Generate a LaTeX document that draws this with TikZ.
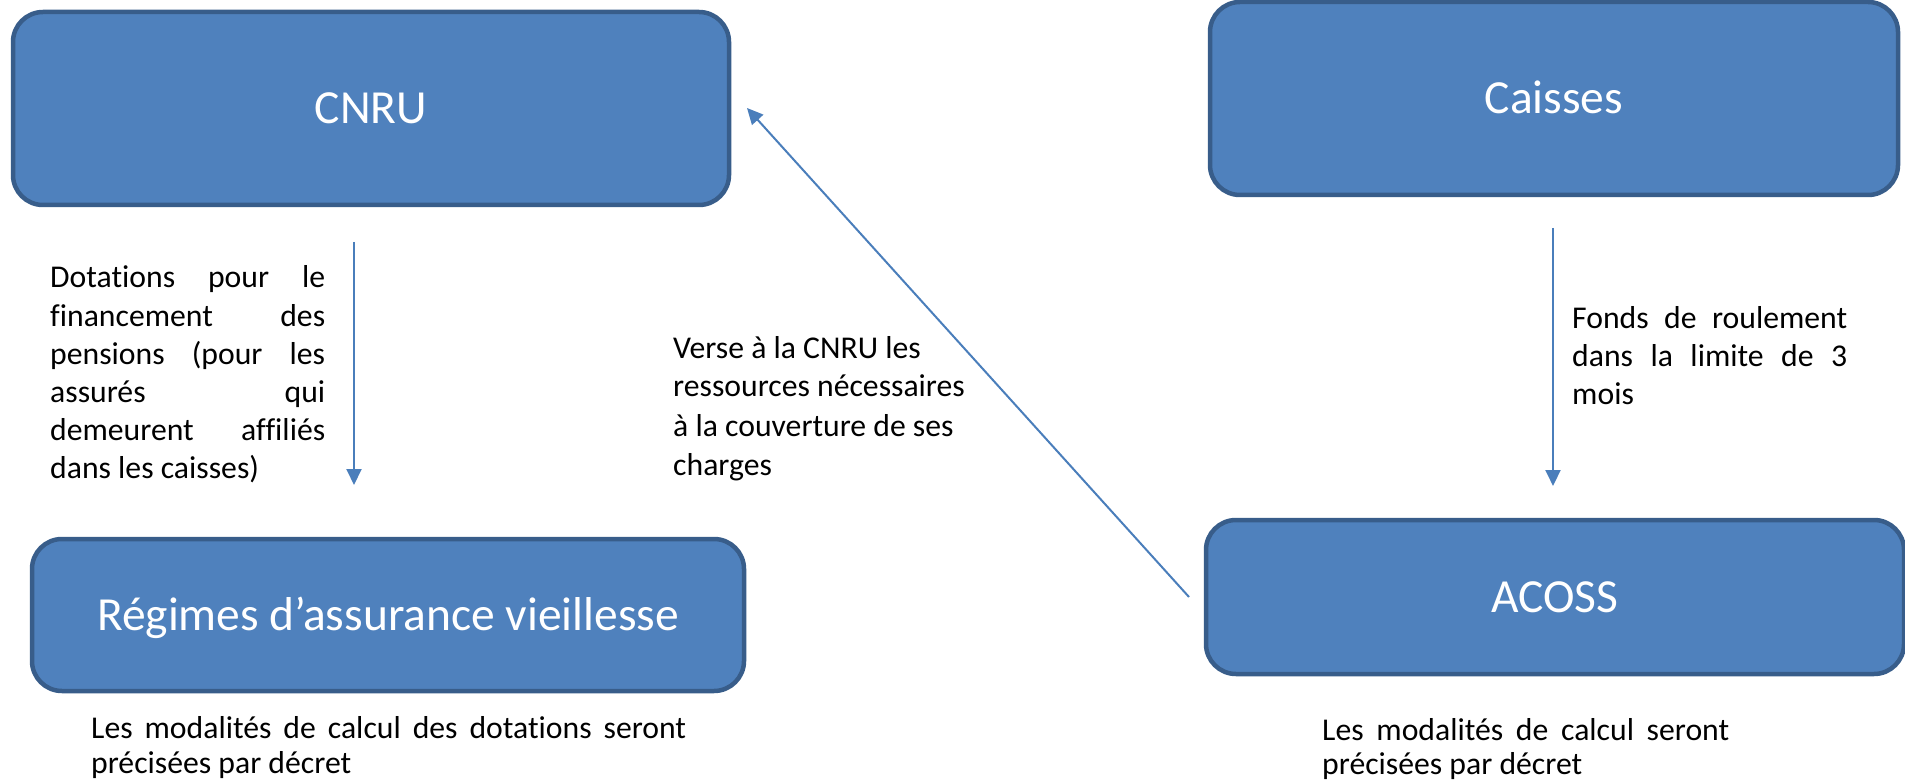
\documentclass[tikz,border=0pt]{standalone}
\usepackage{fontspec}
\setmainfont{Carlito}[Ligatures=NoCommon]
\usetikzlibrary{arrows.meta}
\definecolor{boxfill}{HTML}{4F81BD}
\definecolor{boxline}{HTML}{385D8A}
\definecolor{arrowc}{HTML}{4A7EBB}
\newcommand\jl[2]{\hbox to #1{\spaceskip=0pt plus 1fil\xspaceskip=0pt plus 1fil\relax #2}}
\newcommand\fl[1]{\hbox{#1}}
\begin{document}
\begin{tikzpicture}[x=1pt,y=-1pt,
  box/.style={draw=boxline, line width=4.5pt, fill=boxfill, rounded corners=30pt,
    text=white, font=\fontsize{47.5}{57}\selectfont, text height=30.6pt, text depth=0pt, inner sep=0pt},
  body/.style={inner sep=0pt, anchor=base west, text=black},
  conn/.style={draw=arrowc, line width=2pt, -{Triangle[length=16pt,width=15pt]}}]
\useasboundingbox (0,0) rectangle (1905,783);

% boxes
\node[box, minimum width=716pt, minimum height=193pt] (cnru) at (371,108.5) {CNRU};
\node[box, minimum width=688pt, minimum height=193pt] (caisses) at (1554,98.5) {Caisses};
\node[box, minimum width=712pt, minimum height=152pt] (regimes) at (388,615) {Régimes d’assurance vieillesse};
\node[box, minimum width=698pt, minimum height=154pt] (acoss) at (1555,597) {ACOSS};

% connectors
\coordinate (a1s) at (354,242);
\coordinate (a1e) at (354,485);
\coordinate (a2s) at (1553,228);
\coordinate (a2e) at (1553,486);
\coordinate (a3s) at (1189,597);
\coordinate (a3e) at (747,108);
\draw[conn] (a1s) -- (a1e);
\draw[conn] (a2s) -- (a2e);
\draw[conn] (a3s) -- (a3e);

% texts
\node[body, font=\fontsize{31.7}{38.2}\selectfont] (tdot) at (50,288) {\vtop{%
  \jl{275pt}{Dotations pour le}
  \jl{275pt}{financement des}
  \jl{275pt}{pensions (pour les}
  \jl{275pt}{assurés qui}
  \jl{275pt}{demeurent affiliés}
  \fl{dans les caisses)}}};

\node[body, font=\fontsize{31.7}{39}\selectfont] (tverse) at (673,358) {\vtop{%
  \fl{Verse à la CNRU les}
  \fl{ressources nécessaires}
  \fl{à la couverture de ses}
  \fl{charges}}};

\node[body, font=\fontsize{31.7}{38}\selectfont] (tfonds) at (1572,329) {\vtop{%
  \jl{275pt}{Fonds de roulement}
  \jl{275pt}{dans la limite de 3}
  \fl{mois}}};

\node[body, font=\fontsize{31.7}{35}\selectfont] (tmod1) at (91,738) {\vtop{%
  \jl{595pt}{Les modalités de calcul des dotations seront}
  \fl{précisées par décret}}};

\node[body, font=\fontsize{31.7}{34}\selectfont] (tmod2) at (1322,740) {\vtop{%
  \jl{407pt}{Les modalités de calcul seront}
  \fl{précisées par décret}}};
\end{tikzpicture}
\end{document}
